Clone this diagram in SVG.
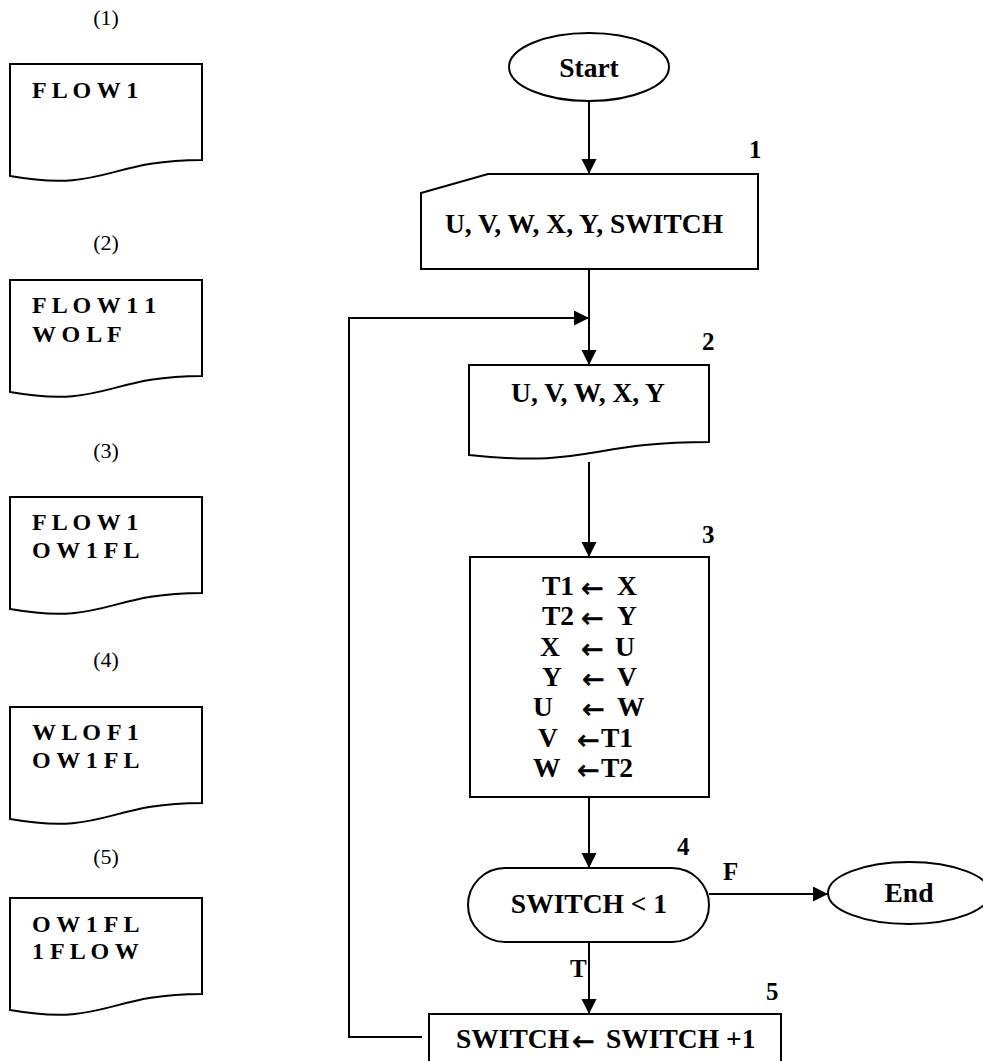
<svg xmlns="http://www.w3.org/2000/svg" width="983" height="1061" viewBox="0 0 983 1061">
  <defs>
    <style>
      .shape { fill: #ffffff; stroke: #000000; stroke-width: 2; }
      .line { fill: none; stroke: #000000; stroke-width: 2; }
      .tag { font-family: "Liberation Serif", "Times New Roman", serif; font-size: 22px; fill: #000; }
      .mono { font-family: "Liberation Serif", "Times New Roman", serif; font-size: 24px; font-weight: bold; fill: #000; }
      .lbl { font-family: "Liberation Serif", "Times New Roman", serif; font-size: 27.5px; font-weight: bold; fill: #000; }
      .num { font-family: "Liberation Serif", "Times New Roman", serif; font-size: 25px; font-weight: bold; fill: #000; }
      .arw { font-family: "DejaVu Sans", sans-serif; font-size: 27px; fill: #000; stroke: #000; stroke-width: 0.6; }
    </style>
    <marker id="head" markerUnits="userSpaceOnUse" markerWidth="16" markerHeight="16" refX="15" refY="7.5" orient="auto">
      <path d="M0,0 L15,7.5 L0,15 z" fill="#000"/>
    </marker>
  </defs>

  <!-- output listings, left column -->
  <g id="out1">
    <text class="tag" x="106" y="25" text-anchor="middle">(1)</text>
    <path class="shape" d="M10,64 H202 V160 C106,160 106,192.6 10,176 Z"/>
    <text class="mono" x="32" y="98" xml:space="preserve">F L O W 1</text>
  </g>
  <g id="out2">
    <text class="tag" x="106" y="250" text-anchor="middle">(2)</text>
    <path class="shape" d="M10,280 H202 V376 C106,376 106,408.6 10,392 Z"/>
    <text class="mono" x="32" y="313" xml:space="preserve">F L O W 1 1</text>
    <text class="mono" x="32" y="342" xml:space="preserve">W O L F</text>
  </g>
  <g id="out3">
    <text class="tag" x="106" y="458" text-anchor="middle">(3)</text>
    <path class="shape" d="M10,497 H202 V593 C106,593 106,625.6 10,609 Z"/>
    <text class="mono" x="32" y="530" xml:space="preserve">F L O W 1</text>
    <text class="mono" x="32" y="558" xml:space="preserve">O W 1 F L</text>
  </g>
  <g id="out4">
    <text class="tag" x="106" y="667" text-anchor="middle">(4)</text>
    <path class="shape" d="M10,707 H202 V803 C106,803 106,835.6 10,819 Z"/>
    <text class="mono" x="32" y="740" xml:space="preserve">W L O F 1</text>
    <text class="mono" x="32" y="768" xml:space="preserve">O W 1 F L</text>
  </g>
  <g id="out5">
    <text class="tag" x="106" y="864" text-anchor="middle">(5)</text>
    <path class="shape" d="M10,898 H202 V994 C106,994 106,1026.6 10,1010 Z"/>
    <text class="mono" x="32" y="932" xml:space="preserve">O W 1 F L</text>
    <text class="mono" x="32" y="959" xml:space="preserve">1 F L O W</text>
  </g>

  <!-- connectors -->
  <g id="connectors">
    <line class="line" x1="589" y1="101" x2="589" y2="174" marker-end="url(#head)"/>
    <line class="line" x1="589" y1="269" x2="589" y2="365" marker-end="url(#head)"/>
    <polyline class="line" points="422,1037 349,1037 349,318 589,318" marker-end="url(#head)"/>
    <line class="line" x1="589" y1="462" x2="589" y2="557" marker-end="url(#head)"/>
    <line class="line" x1="589" y1="797" x2="589" y2="868" marker-end="url(#head)"/>
    <line class="line" x1="589" y1="942" x2="589" y2="1014" marker-end="url(#head)"/>
    <line class="line" x1="709" y1="894" x2="828" y2="894" marker-end="url(#head)"/>
    <text class="num" x="723" y="880">F</text>
    <text class="num" x="570" y="977">T</text>
  </g>

  <!-- flowchart nodes -->
  <g id="start">
    <ellipse class="shape" cx="589" cy="67" rx="80" ry="34"/>
    <text class="lbl" x="589" y="77" text-anchor="middle">Start</text>
  </g>
  <g id="step1">
    <polygon class="shape" points="421,193 488,174 758,174 758,269 421,269"/>
    <text class="num" x="749" y="158">1</text>
    <text class="lbl" x="584" y="233" text-anchor="middle">U, V, W, X, Y, SWITCH</text>
  </g>
  <g id="step2">
    <path class="shape" d="M469,365 H709 V442 C589,442 589,468 469,455 Z"/>
    <text class="num" x="702" y="350">2</text>
    <text class="lbl" x="588" y="402" text-anchor="middle">U, V, W, X, Y</text>
  </g>
  <g id="step3">
    <rect class="shape" x="470" y="557" width="239" height="240"/>
    <text class="num" x="702" y="543">3</text>
    <text class="lbl" x="542" y="595">T1</text><text class="arw" x="581" y="597">←</text><text class="lbl" x="617" y="595">X</text>
    <text class="lbl" x="542" y="625">T2</text><text class="arw" x="581" y="627">←</text><text class="lbl" x="617" y="625">Y</text>
    <text class="lbl" x="540" y="656">X</text><text class="arw" x="581" y="658">←</text><text class="lbl" x="615" y="656">U</text>
    <text class="lbl" x="542" y="686">Y</text><text class="arw" x="582" y="688">←</text><text class="lbl" x="617" y="686">V</text>
    <text class="lbl" x="533" y="716">U</text><text class="arw" x="582" y="718">←</text><text class="lbl" x="617" y="716">W</text>
    <text class="lbl" x="538" y="747">V</text><text class="arw" x="577" y="749">←</text><text class="lbl" x="601" y="747">T1</text>
    <text class="lbl" x="533" y="777">W</text><text class="arw" x="577" y="779">←</text><text class="lbl" x="601" y="777">T2</text>
  </g>
  <g id="step4">
    <rect class="shape" x="468" y="868" width="241" height="74" rx="37" ry="37"/>
    <text class="num" x="677" y="855">4</text>
    <text class="lbl" x="589" y="913" text-anchor="middle">SWITCH &lt; 1</text>
  </g>
  <g id="end">
    <ellipse class="shape" cx="909" cy="893" rx="81" ry="31"/>
    <text class="lbl" x="909" y="902" text-anchor="middle">End</text>
  </g>
  <g id="step5">
    <rect class="shape" x="429" y="1014" width="352" height="60"/>
    <text class="num" x="766" y="1000">5</text>
    <text class="lbl" x="456" y="1048">SWITCH</text><text class="arw" x="572" y="1050">←</text><text class="lbl" x="606" y="1048">SWITCH +1</text>
  </g>
</svg>
